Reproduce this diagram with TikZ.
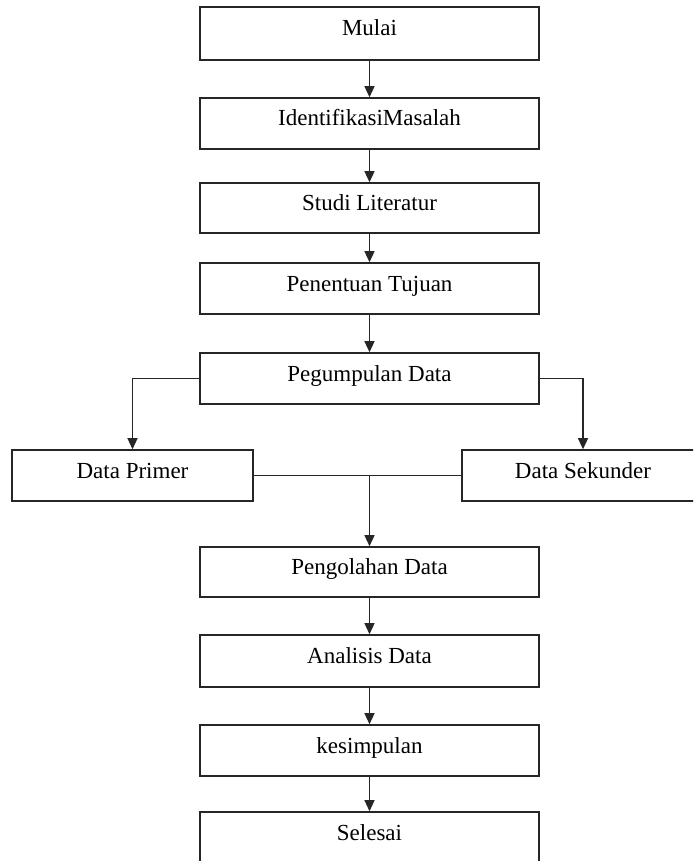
\documentclass[tikz,border=0pt]{standalone}
\usepackage{fontspec}
\setmainfont{Liberation Serif}
\usetikzlibrary{arrows.meta}
\begin{document}
\begin{tikzpicture}[x=1pt,y=-1pt,
  box/.style={draw=black!85, line width=1.6pt, rectangle, inner sep=0pt,
    minimum width=339pt, minimum height=51pt,
    text height=17pt, text depth=12pt,
    font=\fontsize{23}{27}\selectfont},
  sidebox/.style={box, minimum width=241pt},
  conn/.style={draw=black!85, line width=1.3pt},
  arr/.style={conn, -{Triangle[width=10pt,length=11pt]}}
]
\useasboundingbox (0,0) rectangle (693,861);
\clip (0,0) rectangle (693,861);
\node[box, minimum height=53pt] (mulai) at (369.5,33.5) {Mulai};
\node[box] (ident) at (369.5,123.5) {IdentifikasiMasalah};
\node[box, minimum height=50pt] (studi) at (369.5,208) {Studi Literatur};
\node[box] (tujuan) at (369.5,288.5) {Penentuan Tujuan};
\node[box] (kumpul) at (369.5,378.5) {Pegumpulan Data};
\node[sidebox] (primer) at (132.5,475.5) {Data Primer};
\node[sidebox, minimum width=242pt] (sekunder) at (583,475.5) {Data Sekunder};
\node[box, minimum height=50pt] (olah) at (369.5,572) {Pengolahan Data};
\node[box, minimum height=52pt] (analisis) at (369.5,661) {Analisis Data};
\node[box] (simpul) at (369.5,750.5) {kesimpulan};
\node[box] (selesai) at (369.5,837.5) {Selesai};
\coordinate (join) at (369.5,475.5);

\draw[arr] (mulai) -- (ident);
\draw[arr] (ident) -- (studi);
\draw[arr] (studi) -- (tujuan);
\draw[arr] (tujuan) -- (kumpul);
\draw[arr] (kumpul.west) -| (primer.north);
\draw[arr] (kumpul.east) -| (sekunder.north);
\draw[conn] (primer.east) -- (sekunder.west);
\draw[arr] (join) -- (olah);
\draw[arr] (olah) -- (analisis);
\draw[arr] (analisis) -- (simpul);
\draw[arr] (simpul) -- (selesai);
\end{tikzpicture}
\end{document}
